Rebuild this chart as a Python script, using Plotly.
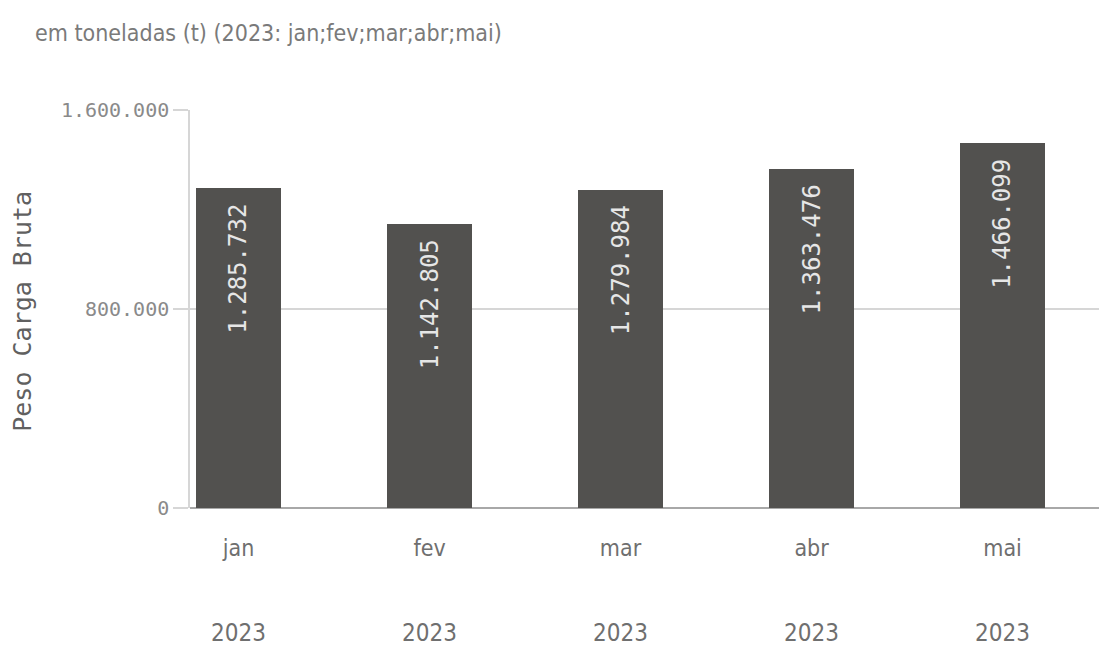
import plotly.graph_objects as go

# Monthly gross cargo weight, in tonnes
months = ["jan", "fev", "mar", "abr", "mai"]
years = ["2023", "2023", "2023", "2023", "2023"]
peso_bruto = [1285732, 1142805, 1279984, 1363476, 1466099]
y_ticks = [0, 800000, 1600000]

NARROW = "Liberation Sans Narrow, DejaVu Sans Condensed, Roboto, sans-serif"
MONO = "DejaVu Sans Mono, Liberation Mono, monospace"

x_pos = list(range(len(months)))


def fmt_pt(v):
    """Format an integer with dots as thousands separators."""
    return f"{v:,}".replace(",", ".")


fig = go.Figure()
fig.add_trace(go.Bar(
    x=x_pos,
    y=peso_bruto,
    width=0.445,
    marker=dict(color="#52514f", line=dict(width=0)),
    hoverinfo="skip",
))

# value labels, rotated, just inside the top of each bar
for xi, v in zip(x_pos, peso_bruto):
    fig.add_annotation(
        x=xi, y=v, xref="x", yref="y",
        text=fmt_pt(v), textangle=-90, showarrow=False,
        xanchor="center", yanchor="top", yshift=-14,
        font=dict(family=MONO, size=24, color="#e6e6e6"),
    )

# year row below the month tick labels
for xi, yr in zip(x_pos, years):
    fig.add_annotation(
        x=xi, y=-0.315, xref="x", yref="paper",
        text=yr, showarrow=False, xanchor="center", yanchor="middle",
        font=dict(family=NARROW, size=24, color="#6f6f6f"),
    )

# vertical axis title
fig.add_annotation(
    x=-0.184, y=0.495, xref="paper", yref="paper",
    text="Peso Carga Bruta", textangle=-90, showarrow=False,
    xanchor="center", yanchor="middle",
    font=dict(family=MONO, size=25, color="#606060"),
)

fig.update_layout(
    width=1099, height=648,
    margin=dict(l=190, r=0, t=110, b=140),
    paper_bgcolor="white", plot_bgcolor="white",
    separators=",.",
    showlegend=False,
    bargap=0,
    title=dict(
        text="em toneladas (t) (2023: jan;fev;mar;abr;mai)",
        x=35 / 1099, xref="container", xanchor="left",
        y=1 - 33 / 648, yref="container", yanchor="middle",
        font=dict(family=NARROW, size=23, color="#7a7a7a"),
    ),
    xaxis=dict(
        range=[-0.254, 4.505],
        tickmode="array", tickvals=x_pos, ticktext=months,
        tickfont=dict(family=NARROW, size=23, color="#6f6f6f"),
        showgrid=False, zeroline=False, showline=False,
        ticks="", ticklabelstandoff=24,
        fixedrange=True,
    ),
    yaxis=dict(
        range=[0, 1600000],
        tickmode="array", tickvals=y_ticks,
        tickformat=",d",
        tickfont=dict(family=MONO, size=20, color="#8a8a8a"),
        showgrid=True, gridcolor="#d6d6d6", gridwidth=1.5,
        zeroline=True, zerolinecolor="#a8a8a8", zerolinewidth=1.5,
        showline=True, linecolor="#d6d6d6", linewidth=1.5,
        ticks="outside", ticklen=15, tickcolor="#d6d6d6", tickwidth=1.5,
        fixedrange=True,
    ),
)

fig.write_html("out.html")
